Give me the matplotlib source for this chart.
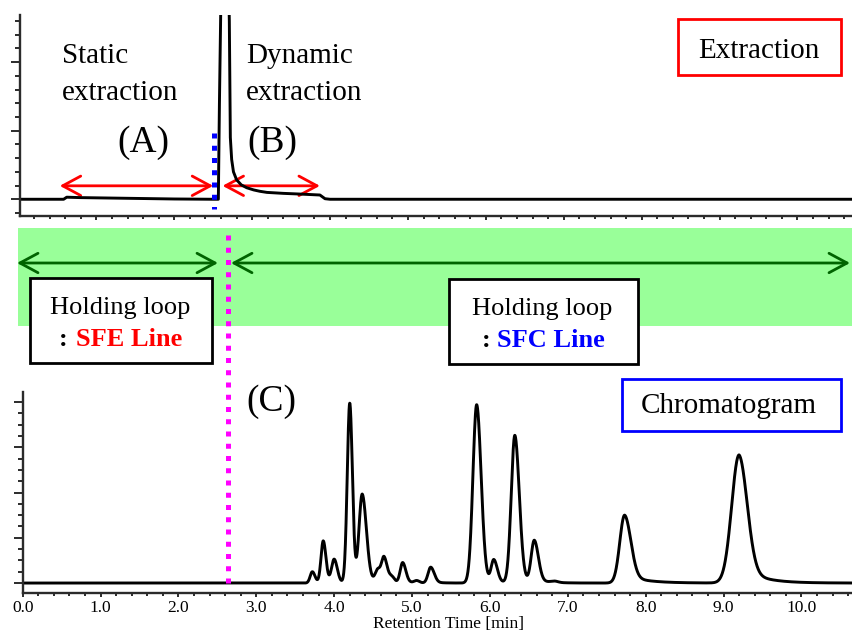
import numpy as np
import matplotlib
matplotlib.use("Agg")
import matplotlib.pyplot as plt
from matplotlib.patches import Rectangle, FancyArrowPatch
from matplotlib.ticker import MultipleLocator, FormatStrFormatter

plt.rcParams["font.family"] = ["Liberation Serif", "DejaVu Serif"]

# extraction trace (top), signal in minor-tick units
ext_time = [0.0, 0.58, 0.62, 0.80, 1.40, 2.00, 2.50, 2.566, 2.58, 2.60, 2.63, 2.67,
            2.70, 2.707, 2.72, 2.737, 2.76, 2.80, 2.86, 2.93, 3.02, 3.10, 3.19,
            3.40, 3.61, 3.87, 3.935, 4.00, 10.72]
ext_signal = [0.0, 0.0, 0.15, 0.12, 0.07, 0.02, 0.0, 0.0, 7.0, 15.0, 30.0, 30.0,
              15.0, 13.0, 4.5, 2.9, 2.0, 1.42, 1.05, 0.84, 0.68, 0.58, 0.50,
              0.43, 0.38, 0.31, 0.04, 0.0, 0.0]

# chromatogram peaks (bottom), heights in major-tick units
peak_rt = [3.72, 3.86, 4.00, 4.20, 4.36, 4.56, 4.64, 4.74, 4.88, 5.06, 5.24,
           5.83, 6.05, 6.32, 6.57, 6.83, 7.73, 9.20]
peak_height = [0.25, 0.93, 0.52, 3.97, 1.95, 0.28, 0.56, 0.13, 0.45, 0.05, 0.35,
               3.94, 0.50, 3.26, 0.93, 0.03, 1.50, 2.83]
peak_sig_left = [0.028, 0.029, 0.034, 0.032, 0.041, 0.034, 0.032, 0.034, 0.032, 0.034, 0.034,
                 0.048, 0.034, 0.046, 0.04, 0.045, 0.062, 0.095]
peak_sig_right = [0.034, 0.034, 0.04, 0.034, 0.054, 0.034, 0.04, 0.034, 0.04, 0.034, 0.045,
                  0.057, 0.045, 0.057, 0.052, 0.045, 0.08, 0.105]
peak_tail = [0.05, 0.05, 0.05, 0.02, 0.05, 0.05, 0.05, 0.05, 0.08, 0.05, 0.08,
             0.03, 0.05, 0.04, 0.08, 0.05, 0.12, 0.14]
peak_tau = [0.08, 0.08, 0.08, 0.1, 0.1, 0.08, 0.08, 0.08, 0.1, 0.08, 0.1,
            0.12, 0.1, 0.12, 0.15, 0.1, 0.25, 0.25]

W, H = 852, 633


def fx(px):
    return px / W


def fy(py):
    return 1 - py / H


fig = plt.figure(figsize=(W / 100, H / 100), dpi=100)
ax1 = fig.add_axes([fx(20), fy(216), 1 - fx(20), fy(15) - fy(216)])
ax2 = fig.add_axes([fx(22.7), fy(593), 1 - fx(22.7), fy(392) - fy(593)])

# top: extraction trace
ax1.plot(ext_time, ext_signal, color="black", lw=2.1, solid_joinstyle="round")
ax1.set_xlim(0.02, 10.70)
ax1.set_ylim(-1.22, 13.43)
ax1.xaxis.set_major_locator(MultipleLocator(1))
ax1.xaxis.set_minor_locator(MultipleLocator(0.2))
ax1.yaxis.set_major_locator(MultipleLocator(5))
ax1.yaxis.set_minor_locator(MultipleLocator(1))
ax1.tick_params(labelbottom=False, labelleft=False)

# blue dotted marker and red range arrows
ax1.plot([2.51, 2.51], [4.84, -0.69], color="#0000ff", lw=3.6,
         linestyle=(0, (1, 1.45)))
for x0, x1 in [(0.53, 2.50), (2.62, 3.87)]:
    ax1.add_patch(FancyArrowPatch((x0, 0.98), (x1, 0.98),
                                  arrowstyle="<->,head_length=13,head_width=7",
                                  mutation_scale=1, lw=2, color="red",
                                  shrinkA=0, shrinkB=0))

# bottom: chromatogram
t = np.linspace(0, 10.7, 5000)
chrom = np.zeros_like(t)
for c, h, sl, sr, f, tau in zip(peak_rt, peak_height, peak_sig_left,
                                peak_sig_right, peak_tail, peak_tau):
    d = t - c
    left = np.exp(-0.5 * (d / sl) ** 2)
    right = (1 - f) * np.exp(-0.5 * (d / sr) ** 2) + f * np.exp(-np.clip(d, 0, None) / tau)
    chrom += h * np.where(d < 0, left, right)
ax2.plot(t, chrom, color="black", lw=2.1)
ax2.set_xlim(0, 10.65)
ax2.set_ylim(-0.22, 4.22)
ax2.xaxis.set_major_locator(MultipleLocator(1))
ax2.xaxis.set_minor_locator(MultipleLocator(0.2))
ax2.xaxis.set_major_formatter(FormatStrFormatter("%.1f"))
ax2.yaxis.set_major_locator(MultipleLocator(1))
ax2.yaxis.set_minor_locator(MultipleLocator(0.25))
ax2.tick_params(labelleft=False)
ax2.tick_params(axis="x", labelsize=12.5, pad=2)
ax2.set_xlabel("Retention Time [min]", fontsize=12.5, va="center")
ax2.xaxis.set_label_coords(0.513, -0.155)

# magenta switch line runs up through the holding-loop band
ax2.plot([2.635, 2.635], [0, 7.84], color="#ff00ff", lw=3.6,
         linestyle=(0, (1, 1.45)), clip_on=False, zorder=3)

for ax in (ax1, ax2):
    ax.patch.set_alpha(0)
    ax.spines[["top", "right"]].set_visible(False)
    for s in ("left", "bottom"):
        ax.spines[s].set_linewidth(1.7)
        ax.spines[s].set_color("#2b2b2b")
    ax.tick_params(which="both", direction="out", width=1.4, color="#2b2b2b")
    ax.tick_params(axis="y", which="major", length=6.8)
    ax.tick_params(axis="y", which="minor", length=3.6)
    ax.tick_params(axis="x", which="major", length=3.2)
    ax.tick_params(axis="x", which="minor", length=2)

# holding loop band with green arrows
fig.add_artist(Rectangle((fx(18), fy(326)), 1 - fx(18), fy(228) - fy(326),
                         transform=fig.transFigure, facecolor="#99ff99",
                         edgecolor="none", zorder=-2))
for p0, p1 in [(17, 218), (231, 850)]:
    fig.add_artist(FancyArrowPatch((fx(p0), fy(263)), (fx(p1), fy(263)),
                                   transform=fig.transFigure,
                                   arrowstyle="<->,head_length=13,head_width=7",
                                   mutation_scale=1, lw=2, color="#006400",
                                   shrinkA=0, shrinkB=0, zorder=-1))

# label boxes
boxes = [(678, 19, 841, 75, "red"), (622, 379, 841, 431, "#0000ff"),
         (30, 278, 212, 363, "black"), (449, 279, 638, 364, "black")]
for x0, y0, x1, y1, ec in boxes:
    fig.add_artist(Rectangle((fx(x0), fy(y1)), fx(x1) - fx(x0), fy(y0) - fy(y1),
                             transform=fig.transFigure, facecolor="white",
                             edgecolor=ec, lw=2, zorder=5))


def label(px, py, s, size, **kw):
    fig.text(fx(px), fy(py), s, fontsize=size, ha="left", va="baseline",
             zorder=6, **kw)


label(62, 63, "Static", 21)
label(62, 100, "extraction", 21)
label(246, 63, "Dynamic", 21)
label(246, 100, "extraction", 21)
label(117, 152, "(A)", 27)
label(247, 152, "(B)", 27)
label(246, 411, "(C)", 27)
label(698, 58, "Extraction", 21)
label(641, 413, "Chromatogram", 21)
label(50, 314, "Holding loop", 19)
label(59, 346, ":", 19, fontweight="bold")
label(76, 346, "SFE Line", 19, color="red", fontweight="bold")
label(472, 315, "Holding loop", 19)
label(482, 347, ":", 19, fontweight="bold")
label(497, 347, "SFC Line", 19, color="#0000ff", fontweight="bold")

fig.savefig("out.png", dpi=100)
